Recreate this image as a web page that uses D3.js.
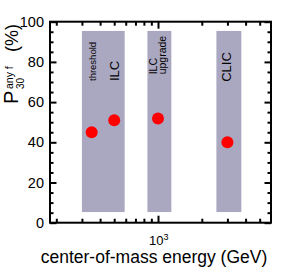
<!DOCTYPE html>
<html>
<head>
<meta charset="utf-8">
<script src="https://cdn.jsdelivr.net/npm/d3@7"></script>
<style>
  body { margin: 0; background: #fff; }
  text { font-family: "Liberation Sans", Arial, sans-serif; fill: #000; }
</style>
</head>
<body>
<div id="chart"></div>
<script>
// data
var energies = [350, 500, 1000, 3000];          // GeV
var probs = [45, 51, 51.8, 40];                 // P30 any f (%)

var bandNames = ["ILC", "ILC upgrade", "CLIC"];
var bandLow = [300, 846, 2520];                 // GeV
var bandHigh = [590, 1235, 3740];               // GeV
var bandBottom = [5.3, 5.3, 5.3];               // %
var bandTop = [95.4, 95.4, 95.4];               // %

var yMajor = [0, 20, 40, 60, 80, 100];
var yMinor = d3.range(5, 100, 5).filter(d => d % 20 !== 0);
var xMajor = [1000];
var xMinor = [200, 300, 400, 500, 600, 700, 800, 900, 2000, 3000, 4000, 5000];

var svgWidth = 296;
var svgHeight = 272;

var margin = { top: 21.7, left: 50, right: 25, bottom: 49.3 };
var width = svgWidth - margin.left - margin.right;
var height = svgHeight - margin.top - margin.bottom;

var svg = d3.select("#chart")
  .append("svg")
  .attr("width", svgWidth)
  .attr("height", svgHeight);

var chartGroup = svg.append("g")
  .attr("transform", `translate(${margin.left}, ${margin.top})`);

// scales
var xScale = d3.scaleLog()
  .domain([181, 5980])
  .range([0, width]);

var yScale = d3.scaleLinear()
  .domain([0, 100])
  .range([height, 0]);

// gray bands for the machines
chartGroup.selectAll(".band")
  .data(bandLow)
  .enter()
  .append("rect")
  .attr("class", "band")
  .attr("x", (d, i) => xScale(d))
  .attr("width", (d, i) => xScale(bandHigh[i]) - xScale(d))
  .attr("y", (d, i) => yScale(bandTop[i]))
  .attr("height", (d, i) => yScale(bandBottom[i]) - yScale(bandTop[i]))
  .attr("fill", "#aaa7c1");

// rotated band labels: [text, energy of baseline, start value, font size]
var bandLabels = [
  ["threshold", 377, 70.5, 9.5],
  ["ILC", 542, 70.5, 13],
  ["ILC", 990, 73.8, 10.5],
  ["upgrade", 1129, 73.8, 10.5],
  ["CLIC", 3170, 70.1, 13]
];

chartGroup.selectAll(".bandLabel")
  .data(bandLabels)
  .enter()
  .append("text")
  .attr("class", "bandLabel")
  .attr("transform", d => `translate(${xScale(d[1])}, ${yScale(d[2])}) rotate(-90)`)
  .attr("font-size", d => d[3] + "px")
  .text(d => d[0]);

// axes, ticks all point inwards
function addAxis(axisFn, values, size, transform, labels) {
  var ax = axisFn.tickValues(values)
    .tickSize(-size)
    .tickPadding(6)
    .tickFormat(labels ? d3.format("d") : "");
  var g = chartGroup.append("g")
    .attr("transform", transform)
    .call(ax);
  g.select(".domain").remove();
  g.selectAll("line").attr("stroke", "#000").attr("stroke-width", 2);
  g.selectAll("text")
    .attr("font-family", "Liberation Sans, Arial, sans-serif")
    .attr("font-size", "14.5px")
    .attr("fill", "#000");
  return g;
}

addAxis(d3.axisLeft(yScale), yMajor, 6.5, "translate(0,0)", true);
addAxis(d3.axisLeft(yScale), yMinor, 3.5, "translate(0,0)", false);
addAxis(d3.axisRight(yScale), yMajor, 6.5, `translate(${width},0)`, false);
addAxis(d3.axisRight(yScale), yMinor, 3.5, `translate(${width},0)`, false);
addAxis(d3.axisBottom(xScale), xMajor, 7, `translate(0,${height})`, false);
addAxis(d3.axisBottom(xScale), xMinor, 4, `translate(0,${height})`, false);
addAxis(d3.axisTop(xScale), xMajor, 7, "translate(0,0)", false);
addAxis(d3.axisTop(xScale), xMinor, 4, "translate(0,0)", false);

// frame
chartGroup.append("rect")
  .attr("width", width)
  .attr("height", height)
  .attr("fill", "none")
  .attr("stroke", "#000")
  .attr("stroke-width", 2);

// 10^3 label
var decade = chartGroup.append("text")
  .attr("x", xScale(1000) - 9)
  .attr("y", height + 22.5)
  .attr("font-size", "13px");
decade.append("tspan").text("10");
decade.append("tspan")
  .attr("font-size", "9px")
  .attr("dy", -5.5)
  .text("3");

// data points
chartGroup.selectAll(".dot")
  .data(energies)
  .enter()
  .append("circle")
  .attr("class", "dot")
  .attr("cx", d => xScale(d))
  .attr("cy", (d, i) => yScale(probs[i]))
  .attr("r", 6)
  .attr("fill", "#ff0000");

// axis titles
svg.append("text")
  .attr("x", 154)
  .attr("y", 263)
  .attr("text-anchor", "middle")
  .attr("font-size", "17.5px")
  .text("center-of-mass energy (GeV)");

var yTitle = svg.append("g")
  .attr("transform", "translate(18, 104) rotate(-90)");
yTitle.append("text").attr("font-size", "20px").text("P");
yTitle.append("text").attr("x", 15).attr("y", -5).attr("font-size", "10.5px").text("any f");
yTitle.append("text").attr("x", 15).attr("y", 6).attr("font-size", "10px").text("30");
yTitle.append("text").attr("x", 52).attr("font-size", "18px").text("(%)");
</script>
</body>
</html>
